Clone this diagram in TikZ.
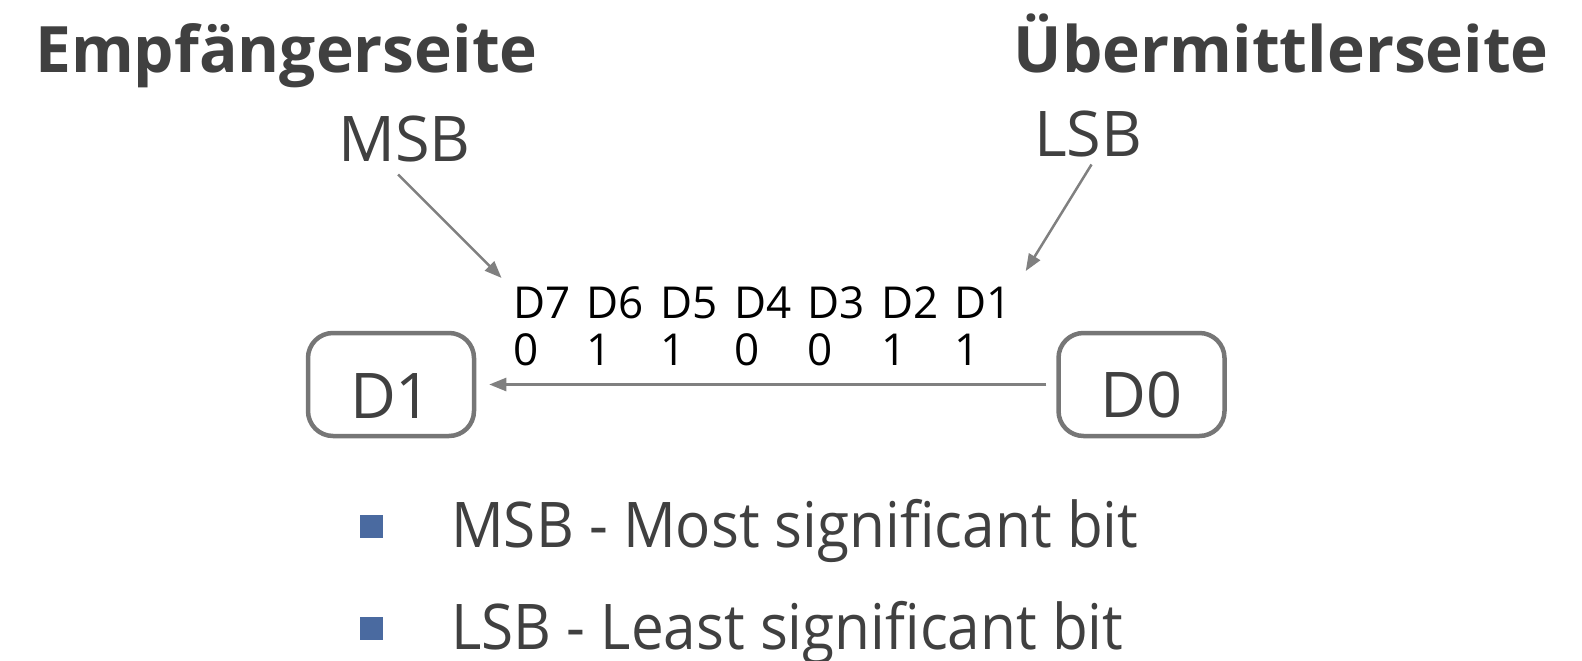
\documentclass[tikz,border=0pt]{standalone}
\usepackage{fontspec}
\setmainfont{Open Sans}
\newfontfamily\narrowsans[FakeStretch=0.928]{Open Sans}
\usetikzlibrary{arrows.meta, positioning}
\definecolor{txtgray}{RGB}{64,64,64}
\definecolor{linegray}{RGB}{128,128,128}
\definecolor{boxgray}{RGB}{118,118,118}
\definecolor{bulletblue}{RGB}{74,106,160}
\tikzset{
  title/.style={anchor=base west, font=\fontsize{64}{64}\selectfont\bfseries},
  big/.style={anchor=base west, font=\fontsize{63}{63}\selectfont},
  legend/.style={anchor=base west, font=\fontsize{63}{63}\narrowsans},
  bitlabel/.style={anchor=base west, text=black, font=\fontsize{44}{44}\selectfont},
  regbox/.style={draw=boxgray, line width=4.5pt, rounded corners=25pt, minimum width=166pt,
    minimum height=103pt, text height=67pt, font=\fontsize{63}{63}\selectfont},
  pointer/.style={draw=linegray, line width=2.5pt, -{Triangle[length=17pt,width=13pt]}},
  bulletsq/.style={fill=bulletblue, minimum size=23pt, anchor=north west}
}
\begin{document}
\begin{tikzpicture}[x=1pt, y=-1pt, every node/.style={inner sep=0pt, text=txtgray}]
\useasboundingbox (0,0) rectangle (1582,661);
% Titles
\node[title] (Recv) at (35,73) {Empfängerseite};
\node[title, anchor=base east] (Send) at (1549,73) {Übermittlerseite};
\node[big] (MSB) at (338,161) {MSB};
\node[big] (LSB) at (1034,156) {LSB};
% Bits
\foreach \d/\b [count=\i from 0] in {7/0,6/1,5/1,4/0,3/0,2/1,1/1} {
  \node[bitlabel] (Bit\d) at (513+73.6*\i,318) {D\d};
  \node[bitlabel] (Val\d) at (513+73.6*\i,365) {\b};
}
% Registers
\node[regbox] (BoxD1) at (391,384.5) {D1};
\node[regbox] (BoxD0) at (1141.5,384.5) {D0};
% Arrows
\draw[pointer, shorten <=18pt, shorten >=12pt] ([xshift=-19pt]MSB.south) -- ([xshift=-3pt]Bit7.north west);
\draw[pointer, shorten <=9pt, shorten >=18pt] ([xshift=8pt]LSB.south) -- ([xshift=4pt]Bit1.north east);
\draw[pointer, shorten <=10pt, shorten >=13pt] (BoxD0.west) -- (BoxD1.east);
% Legend
\node[bulletsq] (Sq1) at (360,515) {};
\node[bulletsq] (Sq2) at (360,617) {};
\node[legend] (LegM) at (451,547) {MSB - Most significant bit};
\node[legend] (LegL) at (451,649) {LSB - Least significant bit};
\end{tikzpicture}
\end{document}
